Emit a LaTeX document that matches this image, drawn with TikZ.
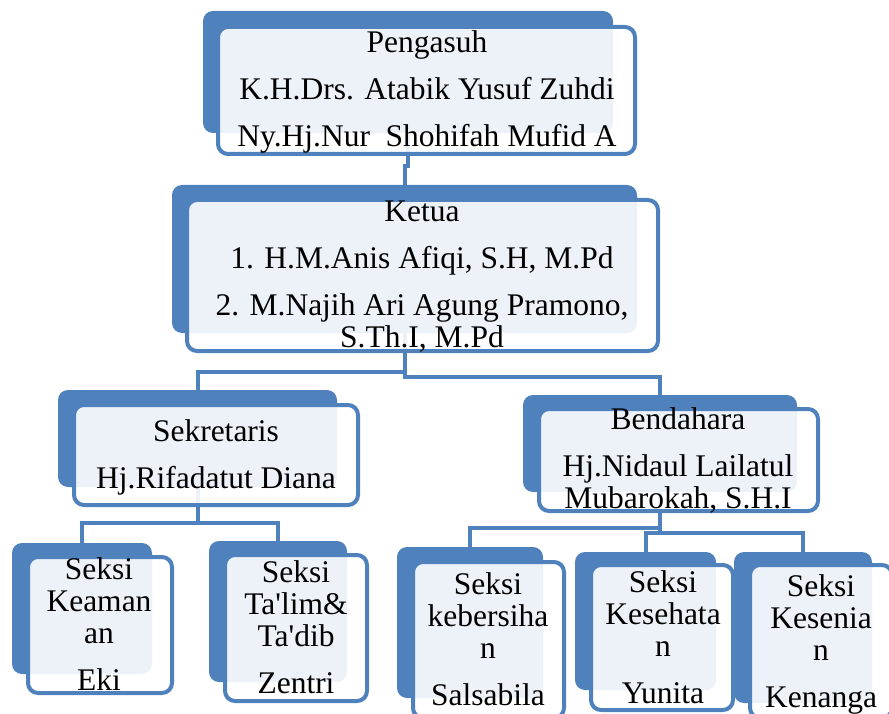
\documentclass[tikz,border=0pt]{standalone}
\usepackage{fontspec}
\setmainfont{Liberation Serif}[Ligatures=TeXOff]
\definecolor{accent}{HTML}{4F81BD}
\tikzset{
  back/.style={fill=accent, rounded corners=10pt, inner sep=0pt},
  front/.style={draw=accent, line width=4pt, fill=white, fill opacity=0.9, rounded corners=10pt, inner sep=0pt},
  txt/.style={align=center, anchor=base, inner sep=0pt, font=\fontsize{31.5}{32}\selectfont},
  link/.style={draw=accent, line width=4pt}
}
\begin{document}
\begin{tikzpicture}[x=1pt, y=-1pt]
\useasboundingbox (0,0) rectangle (889,714);
\clip (0,0) rectangle (889,714);
\fill[white] (0,0) rectangle (889,714);
\node[back, minimum width=410pt, minimum height=122pt] (pengB) at (408,72) {};
\node[back, minimum width=465pt, minimum height=148pt] (ketuaB) at (404.5,259) {};
\node[back, minimum width=279pt, minimum height=97pt] (sekB) at (197.5,438.5) {};
\node[back, minimum width=274pt, minimum height=97pt] (benB) at (660,443.5) {};
\node[back, minimum width=140pt, minimum height=131pt] (keaB) at (82,608.5) {};
\node[back, minimum width=138pt, minimum height=141pt] (talB) at (278,611.5) {};
\node[back, minimum width=146pt, minimum height=151pt] (berB) at (470,622.5) {};
\node[back, minimum width=141pt, minimum height=138pt] (sehB) at (645.5,621) {};
\node[back, minimum width=138pt, minimum height=151pt] (senB) at (803,627.5) {};
\draw[link] (pengB.south) -- ++(0,33) -| (ketuaB.north);
\draw[link] (ketuaB.south) -- ++(0,39) -| (sekB.north);
\draw[link] (ketuaB.south) -- ++(0,44) -| (benB.north);
\draw[link] (sekB.south) -- ++(0,36) -| (keaB.north);
\draw[link] (sekB.south) -- ++(0,36) -| (talB.north);
\draw[link] (benB.south) -- ++(0,36) -| (berB.north);
\draw[link] (benB.south) -- ++(0,41) -| (sehB.north);
\draw[link] (benB.south) -- ++(0,41) -| (senB.north);
\node[front, minimum width=417pt, minimum height=127pt] (peng) at (426.5,90.5) {};
\node[front, minimum width=471pt, minimum height=151pt] (ketua) at (422.5,275.5) {};
\node[front, minimum width=284pt, minimum height=100pt] (sek) at (216,455) {};
\node[front, minimum width=279pt, minimum height=102pt] (ben) at (678.5,460) {};
\node[front, minimum width=144pt, minimum height=136pt] (kea) at (100,625) {};
\node[front, minimum width=142pt, minimum height=146pt] (tal) at (296,628) {};
\node[front, minimum width=151pt, minimum height=156pt] (ber) at (488.5,640) {};
\node[front, minimum width=142pt, minimum height=145pt] (seh) at (662,637.5) {};
\node[front, minimum width=142pt, minimum height=153pt] (sen) at (821,641.5) {};
\node[txt] (pengT) at (427,147) {Pengasuh\\[15pt]K.H.Drs. Atabik Yusuf Zuhdi\\[15pt]Ny.Hj.Nur\ \ Shohifah Mufid A};
\node[txt] (ketuaT) at (422,347) {Ketua\\[15pt]1. H.M.Anis Afiqi, S.H, M.Pd\\[15pt]2. M.Najih Ari Agung Pramono,\\S.Th.I, M.Pd};
\node[txt] (sekT) at (216,488) {Sekretaris\\[15pt]Hj.Rifadatut Diana};
\node[txt] (benT) at (678,508) {Bendahara\\[15pt]Hj.Nidaul Lailatul\\Mubarokah, S.H.I};
\node[txt] (keaT) at (99,690) {Seksi\\Keaman\\an\\[15pt]Eki};
\node[txt] (talT) at (296,693) {Seksi\\Ta'lim\&\\Ta'dib\\[15pt]Zentri};
\node[txt] (berT) at (488,705) {Seksi\\kebersiha\\n\\[15pt]Salsabila};
\node[txt] (sehT) at (663,703) {Seksi\\Kesehata\\n\\[15pt]Yunita};
\node[txt] (senT) at (821,707) {Seksi\\Kesenia\\n\\[15pt]Kenanga};
\end{tikzpicture}
\end{document}
